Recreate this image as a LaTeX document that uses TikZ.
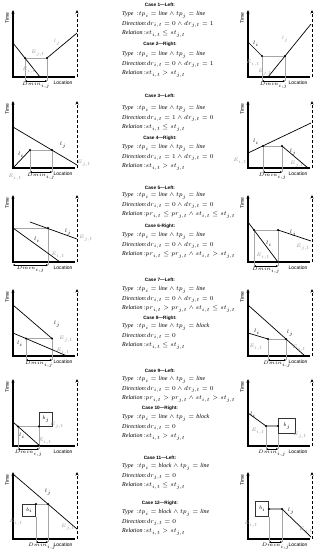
\documentclass[tikz,border=0pt]{standalone}
\usepackage{fontspec}
\setmainfont{Liberation Serif}
\setsansfont{Liberation Sans}
\usetikzlibrary{positioning}
\usetikzlibrary{arrows.meta}
\usetikzlibrary{calc}
\tikzset{
  % Axes of one time-location plot
  axis/.style={draw=black, line width=1.1pt},
  timeaxis/.style={axis, -{Stealth[length=3.5pt, width=3pt]}},
  bound/.style={draw=black, line width=0.9pt, dash pattern=on 3pt off 2pt,
    -{Stealth[length=3.5pt, width=3pt]}},
  % Work lines, helper lines and points
  work/.style={draw=black, line width=0.7pt},
  guide/.style={draw=black!35, line width=0.5pt},
  pt/.style={circle, fill=black, inner sep=0pt, minimum size=2.2pt},
  blk/.style={draw=black!80, line width=0.6pt, fill=white, inner sep=0pt,
    font=\fontsize{4.5}{5}\selectfont},
  gap/.style={{Stealth[length=2pt, width=2pt]}-{Stealth[length=2pt, width=2pt]},
    draw=black, line width=0.4pt},
  % Texts
  lbl/.style={font=\fontsize{4.5}{5}\selectfont, inner sep=0.5pt},
  glbl/.style={lbl, text=black!40},
  axlbl/.style={font=\sffamily\fontsize{5}{6}\selectfont, inner sep=0pt},
  casehead/.style={font=\sffamily\bfseries\fontsize{4.7}{5}\selectfont, inner sep=0pt},
  caseline/.style={font=\fontsize{6}{7}\selectfont, anchor=west, inner sep=0pt},
}
% one empty plot: name, x and y of the axis corner
\newcommand{\plotframe}[3]{%
  \coordinate (#1o) at (#2,#3);
  \coordinate (#1t) at (#2,#3-67);
  \coordinate (#1x) at (#2+62,#3);
  \coordinate (#1d) at (#2+64,#3);
  \coordinate (#1u) at (#2+64,#3-67);
  \draw[timeaxis] (#1x) -- (#1o) -- (#1t);
  \draw[bound] (#1d) -- (#1u);
  \node[axlbl, rotate=90] (#1time) at (#2-6,#3-59) {Time};
  \node[axlbl] (#1loc) at (#2+50,#3+6) {Location};}
% minimum distance: name, left x, right x, y
\newcommand{\dmin}[4]{%
  \coordinate (#1gl) at (#2,#4);
  \coordinate (#1gr) at (#3,#4);
  \draw[gap] (#1gl) -- (#1gr);
  \node[lbl, below=0.3pt] (#1gn) at ($(#1gl)!0.5!(#1gr)$) {$Dmin_{i,j}$};}
% one case: name, heading y, first line y, heading, type, direction, relation
\newcommand{\casetext}[7]{%
  \node[casehead] (#1h) at (160,#2) {#4};
  \node[caseline] (#1a) at (122,#3) {\makebox[15pt][l]{\textit{Type}}:#5};
  \node[caseline] (#1b) at (122,#3+9.5) {\textit{Direction}:#6};
  \node[caseline] (#1c) at (122,#3+19) {\textit{Relation} :#7};}

\begin{document}
\begin{tikzpicture}[x=1pt, y=-1pt]
  \path[fill=white, use as bounding box] (0,0) rectangle (319,550);

  % Case 1
  \plotframe{k1}{13}{77}
  \dmin{k1}{25}{47}{81}
  \coordinate (k1s) at (13,43);
  \coordinate (k1e) at (40,77);
  \coordinate (k1a) at (25,58);
  \coordinate (k1b) at (47,58);
  \coordinate (k1f) at (77,33);
  \draw[guide] (k1gl) -- (k1a) -- (k1b) -- (k1gr);
  \draw[work] (k1s) -- (k1e);
  \draw[work] (k1b) -- (k1f);
  \node[pt] (k1ad) at (k1a) {};
  \node[pt] (k1bd) at (k1b) {};
  \node[glbl] (k1lj) at (57,42) {$l_j$};
  \node[glbl] (k1ej) at (38,53) {$E_{j,t}$};
  \node[glbl] (k1ei) at (29,70) {$E_{i,t}$};

  % Case 2
  \plotframe{k2}{248}{77}
  \dmin{k2}{262}{285}{81}
  \coordinate (k2s) at (248,42);
  \coordinate (k2a) at (262,56);
  \coordinate (k2b) at (285,56);
  \coordinate (k2e) at (268,77);
  \coordinate (k2f) at (311,24);
  \draw[guide] (k2gl) -- (k2a) -- (k2b) -- (k2gr);
  \draw[work] (k2s) -- (k2a);
  \draw[work] (k2e) -- (k2f);
  \node[pt] (k2ad) at (k2a) {};
  \node[pt] (k2bd) at (k2b) {};
  \node[lbl] (k2li) at (256,44) {$l_i$};
  \node[glbl] (k2ei) at (253,63) {$E_{i,t}$};
  \node[glbl] (k2lj) at (285,39) {$l_j$};
  \node[glbl] (k2ej) at (265,72) {$E_{j,t}$};

  % Case 3
  \plotframe{k3}{13}{168}
  \dmin{k3}{30}{52}{172}
  \coordinate (k3s) at (13,127);
  \coordinate (k3f) at (77,165);
  \coordinate (k3a) at (30,150);
  \coordinate (k3b) at (52,150);
  \draw[guide] (k3gl) -- (k3a) -- (k3b) -- (k3gr);
  \draw[work] (k3o) -- (k3a);
  \draw[work] (k3s) -- (k3f);
  \node[pt] (k3ad) at (k3a) {};
  \node[pt] (k3bd) at (k3b) {};
  \node[lbl] (k3li) at (21,155) {$l_i$};
  \node[lbl] (k3lj) at (63,145) {$l_j$};
  \node[glbl] (k3ei) at (15,177) {$E_{i,t}$};
  \node[glbl] (k3ej) at (84,163) {$E_{j,t}$};

  % Case 4
  \plotframe{k4}{248}{168}
  \dmin{k4}{263}{282}{172}
  \coordinate (k4s) at (248,153);
  \coordinate (k4f) at (311,123);
  \coordinate (k4a) at (263,146);
  \coordinate (k4b) at (282,146);
  \coordinate (k4c) at (308,168);
  \draw[guide] (k4gl) -- (k4a) -- (k4b) -- (k4gr);
  \draw[work] (k4s) -- (k4f);
  \draw[work] (k4b) -- (k4c);
  \node[pt] (k4ad) at (k4a) {};
  \node[pt] (k4bd) at (k4b) {};
  \node[pt] (k4cd) at (k4c) {};
  \node[lbl] (k4li) at (256,142) {$l_i$};
  \node[glbl] (k4ei) at (240,161) {$E_{i,t}$};
  \node[lbl] (k4lj) at (293,152) {$l_j$};
  \node[glbl] (k4ej) at (297,164) {$E_{j,t}$};

  % Case 5
  \plotframe{k5}{13}{262}
  \dmin{k5}{13}{48}{265}
  \coordinate (k5s) at (13,228);
  \coordinate (k5e) at (60,262);
  \coordinate (k5b) at (48,228);
  \coordinate (k5p) at (30,222);
  \coordinate (k5f) at (77,239);
  \draw[guide] (k5s) -- (k5b) -- (k5gr);
  \draw[work] (k5s) -- (k5e);
  \draw[work] (k5p) -- (k5f);
  \node[pt] (k5bd) at (k5b) {};
  \node[lbl] (k5lj) at (68,232) {$l_j$};
  \node[lbl] (k5li) at (37,240) {$l_i$};
  \node[glbl] (k5ei) at (58,255) {$E_{i,t}$};
  \node[glbl] (k5ej) at (86,238) {$E_{j,t}$};

  % Case 6
  \plotframe{k6}{248}{262}
  \dmin{k6}{254}{278}{266}
  \coordinate (k6s) at (248,222);
  \coordinate (k6c) at (278,262);
  \coordinate (k6a) at (254,230);
  \coordinate (k6b) at (278,230);
  \coordinate (k6f) at (311,241);
  \draw[guide] (k6gl) -- (k6a) -- (k6b) -- (k6gr);
  \draw[work] (k6s) -- (k6c);
  \draw[work] (k6b) -- (k6f);
  \node[pt] (k6ad) at (k6a) {};
  \node[pt] (k6bd) at (k6b) {};
  \node[pt] (k6cd) at (k6c) {};
  \node[lbl] (k6lj) at (293,233) {$l_j$};
  \node[lbl] (k6li) at (269,244) {$l_i$};
  \node[glbl] (k6ei) at (263,256) {$E_{i,t}$};
  \node[glbl] (k6ej) at (303,247) {$E_{j,t}$};

  % Case 7
  \plotframe{k7}{13}{356}
  \dmin{k7}{26}{52}{360}
  \coordinate (k7s) at (13,305);
  \coordinate (k7b) at (52,338.5);
  \coordinate (k7p) at (13,333);
  \coordinate (k7e) at (67,356);
  \coordinate (k7a) at (26,338.5);
  \draw[guide] (k7gl) -- (k7a) -- (k7b) -- (k7gr);
  \draw[work] (k7s) -- (k7b);
  \draw[work] (k7p) -- (k7e);
  \node[pt] (k7ad) at (k7a) {};
  \node[pt] (k7bd) at (k7b) {};
  \node[lbl] (k7lj) at (57,324) {$l_j$};
  \node[glbl] (k7ej) at (66,339) {$E_{j,t}$};
  \node[lbl] (k7li) at (20,344) {$l_i$};
  \node[glbl] (k7ei) at (63,351) {$E_{i,t}$};

  % Case 8
  \plotframe{k8}{248}{356}
  \dmin{k8}{268}{286}{360}
  \coordinate (k8s) at (248,305);
  \coordinate (k8f) at (305,356);
  \coordinate (k8b) at (286,339);
  \coordinate (k8p) at (248,333);
  \coordinate (k8a) at (268,339);
  \draw[guide] (k8gl) -- (k8a) -- (k8b) -- (k8gr);
  \draw[work] (k8s) -- (k8f);
  \draw[work] (k8p) -- (k8a);
  \node[pt] (k8ad) at (k8a) {};
  \node[pt] (k8bd) at (k8b) {};
  \node[lbl] (k8li) at (257,332) {$l_i$};
  \node[glbl] (k8ei) at (256,347) {$E_{i,t}$};
  \node[lbl] (k8lj) at (290,333) {$l_j$};
  \node[glbl] (k8ej) at (299,348) {$E_{j,t}$};

  % Case 9
  \plotframe{k9}{13}{446}
  \dmin{k9}{18}{39}{449}
  \coordinate (k9s) at (13,422);
  \coordinate (k9e) at (40,446);
  \coordinate (k9a) at (18,426.4);
  \coordinate (k9b) at (39,426.4);
  \draw[guide] (k9gl) -- (k9a) -- (k9b) -- (k9gr);
  \draw[work] (k9s) -- (k9e);
  \node[blk, anchor=south west, minimum width=13pt, minimum height=14pt] (k9box) at (k9b) {$b_j$};
  \node[pt] (k9ad) at (k9a) {};
  \node[pt] (k9bd) at (k9b) {};
  \node[lbl] (k9li) at (22,436) {$l_i$};
  \node[glbl] (k9ei) at (45,441) {$E_{i,t}$};
  \node[glbl] (k9ej) at (57,425) {$E_{j,t}$};

  % Case 10
  \plotframe{k10}{248}{446}
  \dmin{k10}{266}{278}{449}
  \coordinate (k10s) at (248,413);
  \coordinate (k10a) at (266,426);
  \coordinate (k10b) at (278,426);
  \draw[guide] (k10gl) -- (k10a);
  \draw[guide] (k10b) -- (k10gr);
  \draw[work] (k10s) -- (k10a) -- (k10b);
  \node[blk, anchor=west, minimum width=17pt, minimum height=15pt] (k10box) at (k10b) {$b_j$};
  \node[pt] (k10ad) at (k10a) {};
  \node[pt] (k10bd) at (k10b) {};
  \node[lbl] (k10li) at (253,415) {$l_i$};
  \node[glbl] (k10ei) at (258,431) {$E_{i,t}$};
  \node[glbl] (k10ej) at (300,435) {$E_{j,t}$};

  % Case 11
  \plotframe{k11}{13}{539}
  \dmin{k11}{36}{48}{542}
  \coordinate (k11s) at (13,474);
  \coordinate (k11b) at (48,504);
  \coordinate (k11f) at (77,529);
  \coordinate (k11a) at (36,504);
  \node[blk, anchor=north east, minimum width=13pt, minimum height=12pt] (k11box) at (k11a) {$b_i$};
  \draw[guide] (k11a) -- (k11b) -- (k11gr);
  \draw[guide] (k11box.south east) -- (k11gl);
  \draw[work] (k11s) -- (k11f);
  \node[pt] (k11ad) at (k11a) {};
  \node[pt] (k11bd) at (k11b) {};
  \node[lbl] (k11lj) at (48,492) {$l_j$};
  \node[glbl] (k11ei) at (16,522) {$E_{i,t}$};
  \node[glbl] (k11ej) at (68,527) {$E_{j,t}$};

  % Case 12
  \plotframe{k12}{248}{539}
  \dmin{k12}{269}{282}{542}
  \coordinate (k12a) at (269,509);
  \coordinate (k12b) at (282,509);
  \coordinate (k12f) at (311,537);
  \node[blk, anchor=east, minimum width=13pt, minimum height=15pt] (k12box) at (k12a) {$b_i$};
  \draw[guide] (k12box.south east) -- (k12gl);
  \draw[guide] (k12b) -- (k12gr);
  \draw[work] (k12a) -- (k12b) -- (k12f);
  \node[pt] (k12ad) at (k12a) {};
  \node[pt] (k12bd) at (k12b) {};
  \node[lbl] (k12lj) at (291,511) {$l_j$};
  \node[glbl] (k12ei) at (251,524) {$E_{i,t}$};
  \node[glbl] (k12ej) at (306,530) {$E_{j,t}$};

  % Conditions of the cases
  \casetext{c1}{5}{15}{Case 1—Left:}{$tp_i=\mathit{line}\wedge tp_j=\mathit{line}$}{$dr_{i,t}=0\wedge dr_{j,t}=1$}{$st_{i,t}\leq st_{j,t}$}
  \casetext{c2}{44}{55}{Case 2—Right:}{$tp_i=\mathit{line}\wedge tp_j=\mathit{line}$}{$dr_{i,t}=0\wedge dr_{j,t}=1$}{$st_{i,t}>st_{j,t}$}
  \casetext{c3}{96}{109}{Case 3—Left:}{$tp_i=\mathit{line}\wedge tp_j=\mathit{line}$}{$dr_{i,t}=1\wedge dr_{j,t}=0$}{$st_{i,t}\leq st_{j,t}$}
  \casetext{c4}{138}{148}{Case 4—Right:}{$tp_i=\mathit{line}\wedge tp_j=\mathit{line}$}{$dr_{i,t}=1\wedge dr_{j,t}=0$}{$st_{i,t}>st_{j,t}$}
  \casetext{c5}{188}{196}{Case 5—Left:}{$tp_i=\mathit{line}\wedge tp_j=\mathit{line}$}{$dr_{i,t}=0\wedge dr_{j,t}=0$}{$pr_{i,t}\leq pr_{j,t}\wedge st_{i,t}\leq st_{j,t}$}
  \casetext{c6}{226}{236}{Case 6-Right:}{$tp_i=\mathit{line}\wedge tp_j=\mathit{line}$}{$dr_{i,t}=0\wedge dr_{j,t}=0$}{$pr_{i,t}\leq pr_{j,t}\wedge st_{i,t}>st_{j,t}$}
  \casetext{c7}{280}{290}{Case 7—Left:}{$tp_i=\mathit{line}\wedge tp_j=\mathit{line}$}{$dr_{i,t}=0\wedge dr_{j,t}=0$}{$pr_{i,t}>pr_{j,t}\wedge st_{i,t}\leq st_{j,t}$}
  \casetext{c8}{318}{327}{Case 8—Right:}{$tp_i=\mathit{line}\wedge tp_j=\mathit{block}$}{$dr_{i,t}=0$}{$st_{i,t}\leq st_{j,t}$}
  \casetext{c9}{371}{380}{Case 9—Left:}{$tp_i=\mathit{line}\wedge tp_j=\mathit{line}$}{$dr_{i,t}=0\wedge dr_{j,t}=0$}{$pr_{i,t}>pr_{j,t}\wedge st_{i,t}>st_{j,t}$}
  \casetext{c10}{408}{418}{Case 10—Right:}{$tp_i=\mathit{line}\wedge tp_j=\mathit{block}$}{$dr_{i,t}=0$}{$st_{i,t}>st_{j,t}$}
  \casetext{c11}{458}{467}{Case 11—Left:}{$tp_i=\mathit{block}\wedge tp_j=\mathit{line}$}{$dr_{j,t}=0$}{$st_{i,t}\leq st_{j,t}$}
  \casetext{c12}{503}{513}{Case 12—Right:}{$tp_i=\mathit{block}\wedge tp_j=\mathit{line}$}{$dr_{j,t}=0$}{$st_{i,t}>st_{j,t}$}

\end{tikzpicture}
\end{document}
